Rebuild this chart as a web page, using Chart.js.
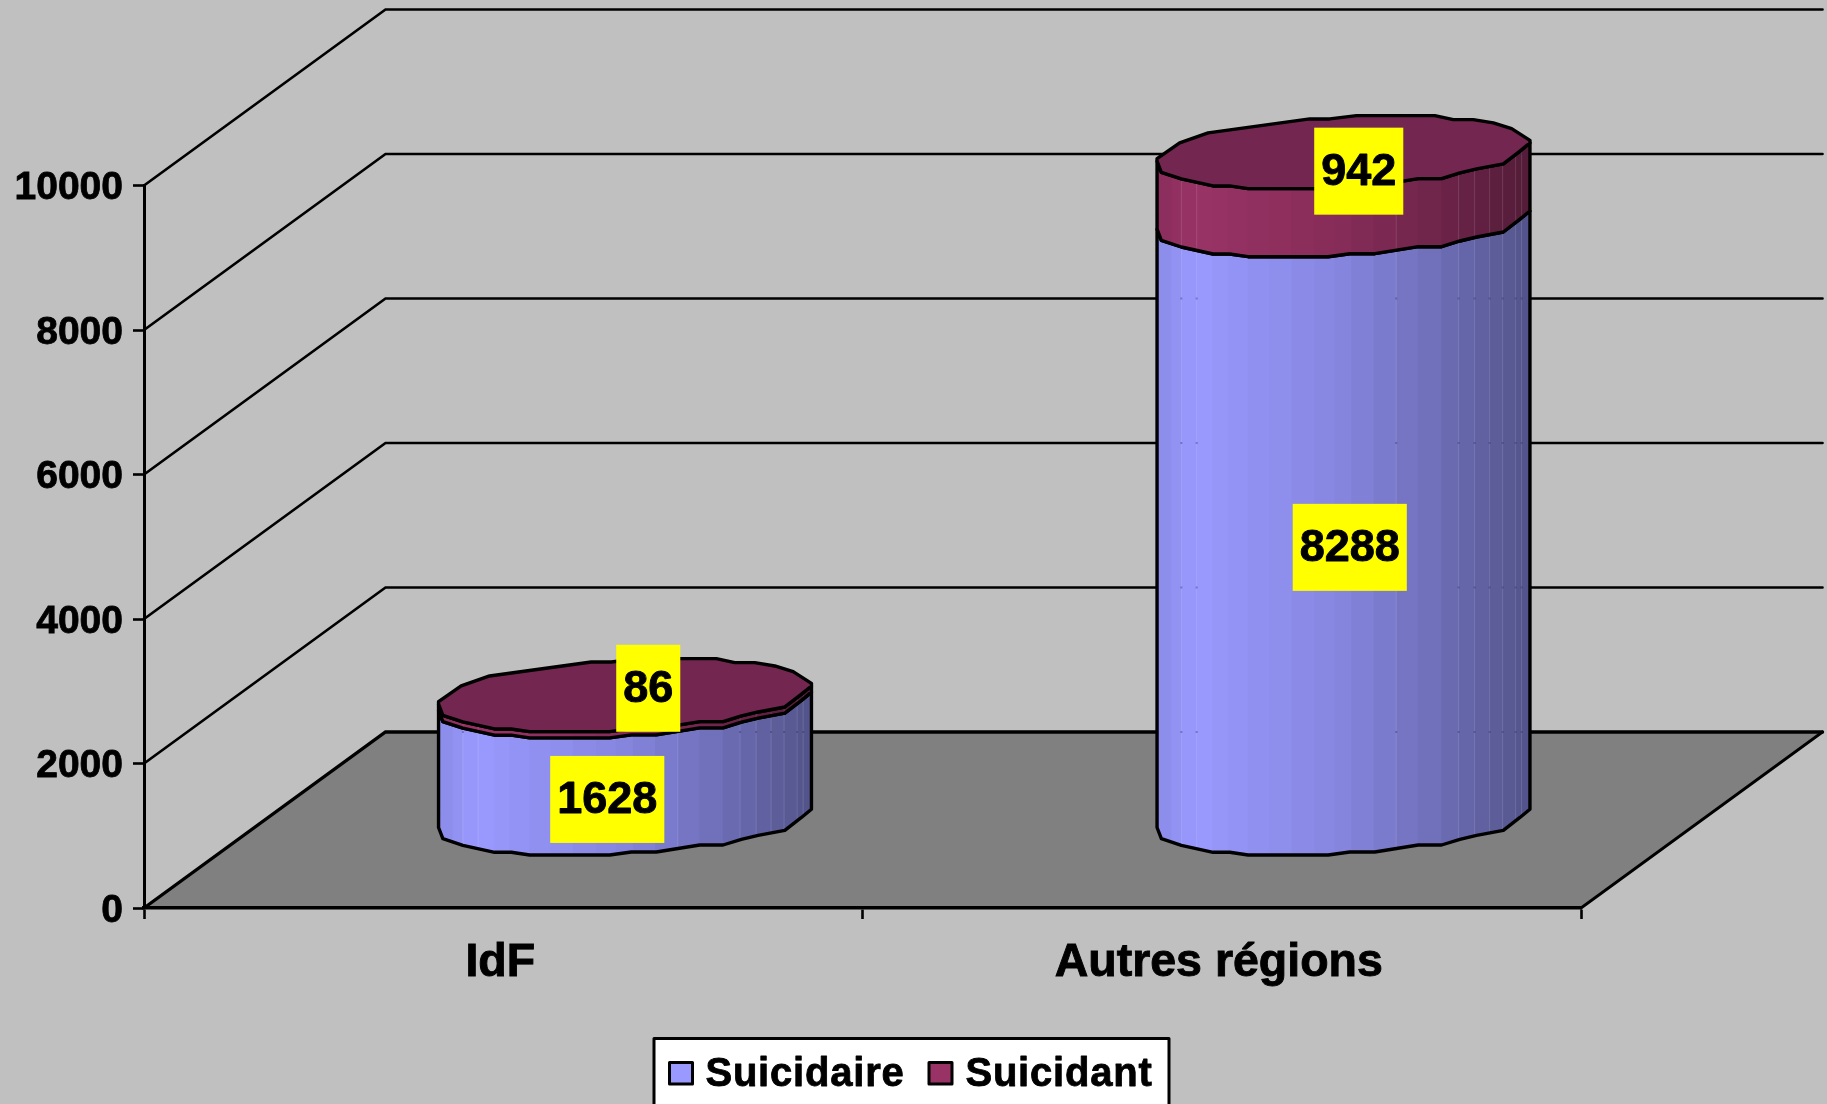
<!DOCTYPE html>
<html><head><meta charset="utf-8">
<style>html,body{margin:0;padding:0;background:#c0c0c0;overflow:hidden}canvas{display:block}</style>
<script src="https://cdn.jsdelivr.net/npm/chart.js@4"></script>
</head><body><canvas id="c" width="1827" height="1104"></canvas>
<script>
const categories = ['IdF', 'Autres régions'];
const suicidaire = [1628, 8288];
const suicidant = [86, 942];
const yMin = 0, yMax = 10000, yStep = 2000;

const FONT = '"Liberation Sans", Arial, sans-serif';
const DEPTH_X = 241.5, DEPTH_Y = 176;
const RIM_BACK = [[-186.3,6.5],[-163.7,-9.2],[-135.3,-19.2],[-33.7,-33.2],[-13.7,-33.2],[13,-36.5],[91.3,-36.5],[109.7,-32.5],[129.7,-32.5],[149.7,-29.2],[168,-23.5],[186.3,-11.8]];
const RIM_FRONT = [[186.3,-9.2],[176,-.8],[159.7,11.8],[133,16.8],[116.3,20.8],[98,26.5],[74.7,26.5],[31.3,33.5],[6.3,33.5],[-15.3,36.5],[-95.3,36.5],[-113.7,33.8],[-130.3,33.8],[-162,26.8],[-182,20.2],[-186.3,9]];
const SEAMS = [-186.3,-184.7,-172,-162,-146.7,-130.7,-115.7,-95.7,-74,-52,-29,-9,7.7,30,52.7,74.3,97.7,115,131,146,159,172,178,186.3];
const LIT_SEAMS = [-162,-146.7,52.7,115,131,146,159,172,178];
const SHADE = [[0,.9],[.1,1],[.5,.87],[.75,.72],[1,.54]];
// label box centre relative to the centre of the bar segment, by dataset then category
const LABEL_SHIFT = [[[104,-49.5],[128,-61]],[[145,-99],[137,-104]]];

function shade(rgb, t){
  let f = SHADE[SHADE.length-1][1];
  for(let i=1;i<SHADE.length;i++){
    if(t<=SHADE[i][0]){const a=SHADE[i-1],b=SHADE[i];f=a[1]+(b[1]-a[1])*(t-a[0])/(b[0]-a[0]);break;}
  }
  return 'rgb('+rgb.map(v=>Math.round(v*f)).join(',')+')';
}
const BLUE=[153,153,255], MAROON=[153,51,102];

function path(ctx, pts){
  ctx.beginPath();
  pts.forEach((p,i)=> i?ctx.lineTo(p[0],p[1]):ctx.moveTo(p[0],p[1]));
  ctx.closePath();
}

const scene = {
  id:'scene',
  beforeDraw(chart){
    const {ctx, chartArea:a, scales:{y}} = chart;
    ctx.save();
    ctx.fillStyle='#c0c0c0'; ctx.fillRect(0,0,chart.width,chart.height);
    // floor
    const y0=y.getPixelForValue(0);
    path(ctx,[[a.left,y0],[a.right,y0],[a.right+DEPTH_X,y0-DEPTH_Y],[a.left+DEPTH_X,y0-DEPTH_Y]]);
    ctx.fillStyle='#808080'; ctx.fill();
    ctx.strokeStyle='#000'; ctx.lineCap='round';
    ctx.lineWidth=2.8;
    ctx.beginPath();
    ctx.moveTo(a.right,y0); ctx.lineTo(a.right+DEPTH_X,y0-DEPTH_Y);
    ctx.stroke();
    // walls
    y.ticks.forEach(t=>{
      const py=y.getPixelForValue(t.value);
      ctx.lineWidth=t.value===0?3.4:2.7;
      ctx.beginPath();
      ctx.moveTo(a.left,py);
      ctx.lineTo(a.left+DEPTH_X,py-DEPTH_Y);
      ctx.lineTo(a.right+DEPTH_X,py-DEPTH_Y);
      ctx.stroke();
    });
    ctx.restore();
  },
  beforeDatasetsDraw(chart){
    const {ctx, scales:{y}} = chart;
    const colors=[BLUE,MAROON];
    const nCat=chart.data.labels.length, nSet=chart.data.datasets.length;
    ctx.save();
    ctx.lineJoin='round'; ctx.lineCap='round';
    for(let c=0;c<nCat;c++){
      for(let s=0;s<nSet;s++){
        const el=chart.getDatasetMeta(s).data[c];
        const k=el.width/372.6;
        const cx=el.x+DEPTH_X/2+1;
        const top=el.y-DEPTH_Y/2-1, bot=el.base-DEPTH_Y/2-1;
        const front=RIM_FRONT.map(p=>[cx+p[0]*k,p[1]]);
        const body=front.map(p=>[p[0],bot+p[1]]).concat(front.slice().reverse().map(p=>[p[0],top+p[1]]));
        ctx.save();
        path(ctx,body); ctx.clip();
        for(let i=0;i<SEAMS.length-1;i++){
          const xa=SEAMS[i], xb=SEAMS[i+1];
          ctx.fillStyle=shade(colors[s],((xa+xb)/2+186.3)/372.6);
          ctx.fillRect(cx+xa*k,top-60,(xb-xa)*k+1,bot-top+120);
        }
        ctx.fillStyle='rgba(255,255,255,0.13)';
        LIT_SEAMS.forEach(x=>ctx.fillRect(cx+x*k-.5,top-60,1,bot-top+120));
        ctx.fillStyle='rgba(40,40,90,0.35)';
        y.ticks.forEach(t=>{
          const gy=y.getPixelForValue(t.value)-DEPTH_Y;
          LIT_SEAMS.forEach(x=>ctx.fillRect(cx+x*k-1,gy-1,2,2));
        });
        ctx.restore();
        ctx.strokeStyle='#000'; ctx.lineWidth=3.4;
        path(ctx,body); ctx.stroke();
        if(s===nSet-1){
          const lid=RIM_BACK.concat(RIM_FRONT).map(p=>[cx+p[0]*k,top+p[1]]);
          path(ctx,lid);
          ctx.fillStyle='#732650'; ctx.fill();
          ctx.stroke();
        }
      }
    }
    // value labels
    ctx.textAlign='center'; ctx.textBaseline='alphabetic';
    ctx.lineJoin='round';
    ctx.font='bold 45px '+FONT;
    for(let c=0;c<nCat;c++){
      for(let s=0;s<nSet;s++){
        const ds=chart.data.datasets[s], el=chart.getDatasetMeta(s).data[c];
        const mid=(el.y+el.base)/2, sh=LABEL_SHIFT[s][c];
        const txt=String(ds.data[c]);
        const w=ctx.measureText(txt).width+14, h=87;
        const bx=el.x+sh[0], by=mid+sh[1];
        ctx.fillStyle='#ffff00'; ctx.fillRect(bx-w/2,by-h/2,w,h);
        ctx.fillStyle='#000'; ctx.strokeStyle='#000'; ctx.lineWidth=.9;
        ctx.strokeText(txt,bx,by+14);
        ctx.fillText(txt,bx,by+14);
      }
    }
    // legend
    ctx.fillStyle='#fff'; ctx.strokeStyle='#000'; ctx.lineWidth=3;
    ctx.fillRect(654,1038.5,515,70);
    ctx.strokeRect(654,1038.5,515,70);
    ctx.font='bold 40px '+FONT; ctx.textAlign='left';
    ctx.letterSpacing='0.8px';
    const items=[[669.5,705.4],[929,965.4]];
    chart.data.datasets.forEach((ds,i)=>{
      ctx.fillStyle=ds.backgroundColor; ctx.strokeStyle='#000'; ctx.lineWidth=3;
      ctx.fillRect(items[i][0],1062.5,23,21.5);
      ctx.strokeRect(items[i][0],1062.5,23,21.5);
      ctx.fillStyle='#000'; ctx.lineWidth=.8;
      ctx.strokeText(ds.label,items[i][1],1086);
      ctx.fillText(ds.label,items[i][1],1086);
    });
    ctx.restore();
    return false;
  }
};

new Chart(document.getElementById('c'),{
  type:'bar',
  data:{labels:categories,datasets:[
    {label:'Suicidaire',data:suicidaire,backgroundColor:'#9999ff',borderColor:'#000',borderWidth:2},
    {label:'Suicidant',data:suicidant,backgroundColor:'#993366',borderColor:'#000',borderWidth:2}
  ]},
  plugins:[scene],
  options:{
    responsive:false,animation:false,
    categoryPercentage:1,barPercentage:0.519,
    layout:{padding:{top:185.5,right:246,left:0,bottom:0}},
    plugins:{legend:{display:false},tooltip:{enabled:false}},
    scales:{
      x:{stacked:true,
        afterFit:s=>{s.height=196;},
        border:{color:'#000',width:3.6},
        grid:{offset:true,drawOnChartArea:false,drawTicks:true,tickLength:11,tickWidth:2.6,tickColor:'#000'},
        ticks:{color:'#000',font:{family:FONT,size:46.5,weight:'bold'},padding:16,maxRotation:0,labelOffset:-3,textStrokeColor:'#000',textStrokeWidth:.9}},
      y:{stacked:true,min:yMin,max:yMax,
        afterFit:s=>{s.width=144;},
        border:{color:'#000',width:3},
        grid:{drawOnChartArea:false,drawTicks:true,tickLength:11,tickWidth:2.6,tickColor:'#000'},
        ticks:{stepSize:yStep,color:'#000',font:{family:FONT,size:39,weight:'bold'},padding:10,labelOffset:3,textStrokeColor:'#000',textStrokeWidth:.8,
          callback:v=>String(v)}}
    }
  }
});
</script></body></html>
